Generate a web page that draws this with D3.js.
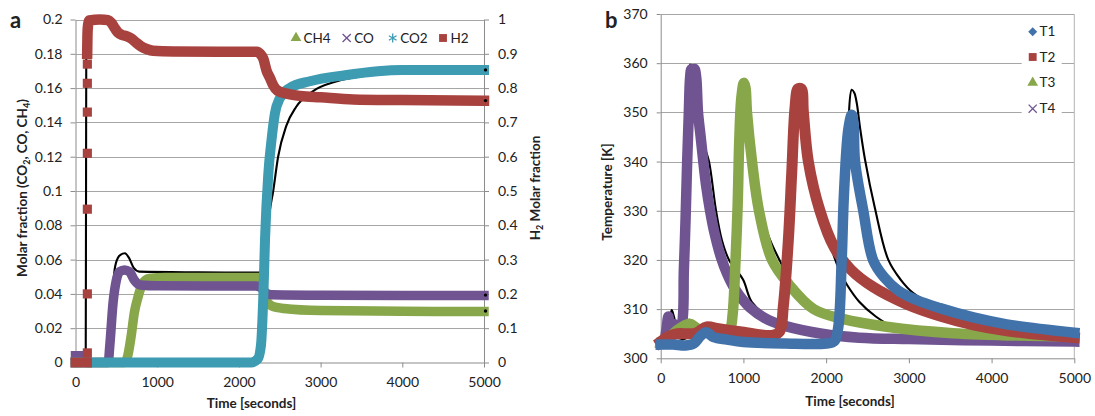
<!DOCTYPE html>
<html><head><meta charset="utf-8">
<script src="https://cdn.jsdelivr.net/npm/d3@7"></script>
<style>
body{margin:0;background:#fff}
svg{display:block}
text{font-family:Lato,"Open Sans",sans-serif;fill:#222}
</style>
</head><body>
<svg id="c" width="1095" height="416"></svg>
<script>
// ---------- shared ticks ----------
const timeTicks = [0, 1000, 2000, 3000, 4000, 5000];
const aLeftTicks = [0, 0.02, 0.04, 0.06, 0.08, 0.1, 0.12, 0.14, 0.16, 0.18, 0.2];
const aRightTicks = [0, 0.1, 0.2, 0.3, 0.4, 0.5, 0.6, 0.7, 0.8, 0.9, 1];
const bTempTicks = [300, 310, 320, 330, 340, 350, 360, 370];

// ---------- panel a : gas composition ----------
const aSeries = ["CH4", "CO", "CO2", "H2"];
const aColors = ["#87a74a", "#6f5491", "#3d9bb2", "#a8423f"];
// experimental (left axis)  [time s, molar fraction]
const ch4Exp = [[0,0],[600,0],[640,0.004],[680,0.015],[720,0.029],[770,0.039],[820,0.046],[900,0.049],[1100,0.0495],[2250,0.0495],[2290,0.045],[2330,0.037],[2400,0.033],[2550,0.0315],[3000,0.0303],[4000,0.0299],[5000,0.0297]];
const coExp = [[0,0.004],[100,0.004],[130,0.002],[150,0],[400,0],[420,0.01],[460,0.035],[500,0.048],[540,0.053],[600,0.054],[660,0.053],[720,0.048],[790,0.0452],[1000,0.0447],[2200,0.0446],[2260,0.044],[2320,0.041],[2400,0.0395],[3000,0.0392],[5000,0.0391]];
const co2Exp = [[0,0],[2150,0],[2230,0.002],[2270,0.01],[2300,0.04],[2320,0.072],[2360,0.11],[2400,0.13],[2440,0.145],[2500,0.154],[2620,0.16],[2870,0.164],[3300,0.1675],[4000,0.1705],[5000,0.1705]];
// H2 experimental (right axis)
const h2ExpLow = [[0,0],[50,0],[100,0],[140,0]];
const h2ExpRise = [[145,0.028],[145,0.2],[145,0.447],[145,0.61],[145,0.73],[145,0.814],[145,0.87]];
const h2ExpMain = [[143,0.9],[146,0.95],[152,0.98],[170,0.997],[300,1.0],[400,0.998],[440,0.99],[480,0.975],[520,0.962],[570,0.955],[630,0.951],[680,0.945],[730,0.935],[800,0.922],[870,0.914],[950,0.909],[1200,0.907],[2000,0.906],[2220,0.906],[2260,0.9],[2300,0.885],[2340,0.85],[2380,0.83],[2420,0.808],[2470,0.793],[2600,0.783],[2750,0.777],[3000,0.773],[3400,0.767],[4000,0.765],[5000,0.763]];
// model (black)
const ch4Mod = [[0,0],[600,0],[640,0.004],[680,0.015],[720,0.029],[770,0.039],[820,0.046],[900,0.049],[1100,0.0495],[2250,0.0495],[2290,0.045],[2330,0.037],[2400,0.033],[2550,0.0315],[3000,0.0303],[4000,0.03],[5000,0.03]];
const coMod = [[0,0],[440,0],[458,0.02],[470,0.05],[495,0.058],[550,0.0628],[605,0.0637],[655,0.061],[715,0.055],[780,0.053],[1500,0.0526],[2250,0.0524],[2285,0.05],[2330,0.042],[2400,0.0398],[3000,0.0394],[5000,0.0393]];
const co2Mod = [[0,0],[2200,0],[2270,0.005],[2300,0.03],[2330,0.06],[2370,0.085],[2420,0.1],[2480,0.12],[2580,0.138],[2700,0.149],[2900,0.158],[3200,0.164],[3600,0.1675],[4300,0.1698],[5000,0.1706]];
const h2Mod = [[0,0],[125,0],[129,0.5],[132,0.93],[140,0.975],[170,0.997],[300,1.0],[400,0.998],[440,0.99],[480,0.975],[520,0.962],[570,0.955],[630,0.951],[680,0.945],[730,0.935],[800,0.922],[870,0.914],[950,0.909],[1200,0.907],[2220,0.906],[2260,0.9],[2300,0.885],[2340,0.85],[2380,0.83],[2420,0.808],[2470,0.793],[2600,0.783],[2750,0.777],[3000,0.773],[3400,0.767],[4000,0.765],[5000,0.7635]];

// ---------- panel b : temperatures ----------
const bSeries = ["T1", "T2", "T3", "T4"];
const bColors = ["#4272aa", "#a8423f", "#87a74a", "#6f5491"];
const t1Exp = [[0,302.8],[150,302.8],[300,302.6],[400,303],[480,304.5],[550,305.3],[640,304.3],[800,303.8],[1000,303.3],[1500,303],[2000,303],[2100,303.5],[2147,306.4],[2188,320],[2216,333.6],[2268,346.5],[2309,349.5],[2330,348],[2349,340],[2449,330],[2567,320],[2700,316.5],[2870,313.8],[3100,311.8],[3376,310.2],[3780,308.3],[4183,306.9],[5000,305.2]];
const t2Exp = [[0,303.4],[100,304.5],[200,305],[420,305.1],[556,306.4],[700,306],[958,305.4],[1361,304.7],[1440,305.5],[1482,310.5],[1543,324],[1584,337.7],[1624,351],[1660,354.8],[1700,354.8],[1725,350],[1785,340],[1925,330],[2100,322.5],[2300,318],[2567,314.5],[2974,311],[3376,308.6],[3780,306.8],[4183,305.6],[5000,304.2]];
const t3Exp = [[0,303],[60,303],[100,304],[150,305],[250,306.3],[354,307],[450,306],[550,305.5],[650,305],[755,305.1],[838,306],[870,309],[898,317.3],[930,331],[950,344.4],[975,353],[1005,356],[1025,355],[1043,350],[1104,340],[1188,330],[1345,320],[1550,315],[1850,310],[2200,308],[2730,306.4],[3530,305.1],[5000,304.4]];
const t4Exp = [[0,303],[40,303.5],[70,306],[92,308.5],[120,306],[160,307],[200,305.5],[250,306.5],[280,318],[300,328],[320,340],[340,350],[355,357],[370,358.8],[390,358],[410,358.8],[430,357],[451,350],[480,345.5],[512,340.5],[550,335],[597,330],[650,325.5],[729,320.5],[800,317.3],[900,314],[1080,310.3],[1300,307.8],[1500,306.6],[1950,305],[2400,304.2],[3000,303.9],[4000,303.6],[5000,303.4]];
const t1Mod = [[0,303],[300,303.2],[500,304.5],[620,305.6],[755,306.3],[900,305],[1200,304],[1800,303.5],[2100,303.6],[2150,305],[2200,312],[2240,330],[2270,348],[2309,354.6],[2340,354],[2369,352],[2409,347],[2470,340.4],[2590,330.5],[2752,320],[2900,316],[3050,313.3],[3300,310.8],[3780,308.3],[4183,306.9],[5000,305.2]];
const t2Mod = [[0,303],[300,304],[556,306.8],[700,306],[1000,305],[1400,304.6],[1480,308],[1540,322],[1590,340],[1630,352],[1660,355],[1700,354],[1740,348],[1800,338.5],[1900,331],[2000,326],[2100,320.5],[2170,317.5],[2250,315],[2400,311.5],[2600,308.5],[2810,306.4],[3100,305],[3600,304.2],[5000,303.8]];
const t3Mod = [[0,303],[100,304],[200,306.5],[354,307.8],[500,306],[800,305.5],[870,310],[920,330],[955,350],[980,356.3],[1010,355.5],[1045,350],[1110,340],[1200,331],[1300,325],[1450,319.5],[1600,315],[1800,311.5],[2000,309.2],[2300,307.3],[2700,306],[3200,305.2],[4000,304.6],[5000,304.3]];
const t4Mod = [[0,303],[60,304],[100,307],[133,309.8],[160,308.5],[200,306],[250,306],[290,320],[320,345],[340,357],[355,359.7],[375,358.5],[420,354],[480,347],[530,343],[584,340],[669,330],[740,324],[826,320],[995,316],[1100,311.5],[1300,308.5],[1500,307],[2000,305.3],[3000,304.1],[5000,303.5]];

// ---------- drawing ----------
const svg = d3.select("#c");
const GRID = "#a6a6a6", AXIS = "#8c8c8c";
const FONT = "Lato, 'Open Sans', sans-serif";
const CURVE_A = d3.curveMonotoneX;
const CURVE_B = d3.curveCatmullRom.alpha(0.5);

const xA = d3.scaleLinear([0, 5000], [75.5, 484]);
const yA = d3.scaleLinear([0, 0.2], [362.5, 19.5]);
const yA2 = d3.scaleLinear([0, 1], [362.5, 19.5]);
const xB = d3.scaleLinear([0, 5000], [660.7, 1074.3]);
const yB = d3.scaleLinear([300, 370], [358.3, 14]);

function styleAxis(g, fs) {
  g.selectAll(".domain").attr("stroke", AXIS);
  g.selectAll(".tick line").attr("stroke", AXIS);
  g.selectAll(".tick text").attr("font-family", FONT).attr("font-size", fs).attr("fill", "#222");
}
function band(g, x, y, data, color, w, curve) {
  g.append("path").datum(data)
    .attr("d", d3.line().x(d => x(d[0])).y(d => y(d[1])).curve(curve))
    .attr("fill", "none").attr("stroke", color).attr("stroke-width", w)
    .attr("stroke-linejoin", "round").attr("stroke-linecap", "square");
}
function model(g, x, y, data, curve) {
  g.append("path").datum(data)
    .attr("d", d3.line().x(d => x(d[0])).y(d => y(d[1])).curve(curve))
    .attr("fill", "none").attr("stroke", "#000").attr("stroke-width", 2.1);
}
function marker(g, kind, cx, cy, color, scale) {
  const s = scale || 1;
  const sym = {tri: d3.symbolTriangle, sq: d3.symbolSquare, dia: d3.symbolSquare, x: d3.symbolTimes, ast: d3.symbolAsterisk}[kind];
  const size = {tri: 50, sq: 62, dia: 40, x: 45, ast: 55}[kind] * s;
  const p = g.append("path").attr("d", d3.symbol(sym, size)())
    .attr("transform", `translate(${cx},${cy})` + (kind === "dia" ? " rotate(45)" : ""));
  if (kind === "x" || kind === "ast") p.attr("fill", "none").attr("stroke", color).attr("stroke-width", 1.3);
  else p.attr("fill", color);
}
const fmt = d => String(d);

// ===== Panel a =====
const ga = svg.append("g");
ga.append("g").attr("transform", `translate(${xA.range()[0]},0)`)
  .call(d3.axisLeft(yA).tickValues(aLeftTicks.slice(1)).tickSize(-(xA.range()[1] - xA.range()[0])).tickFormat(""))
  .call(g => { g.select(".domain").remove(); g.selectAll("line").attr("stroke", GRID).attr("shape-rendering", "crispEdges"); });
const axL = ga.append("g").attr("transform", `translate(${xA.range()[0]},0)`)
  .call(d3.axisLeft(yA).tickValues(aLeftTicks).tickSize(5).tickPadding(8).tickFormat(fmt).tickSizeOuter(0));
styleAxis(axL, 14);
const axR = ga.append("g").attr("transform", `translate(${xA.range()[1]},0)`)
  .call(d3.axisRight(yA2).tickValues(aRightTicks).tickSize(5).tickPadding(9).tickFormat(fmt).tickSizeOuter(0));
styleAxis(axR, 14);
const axB = ga.append("g").attr("transform", `translate(0,${yA.range()[0]})`)
  .call(d3.axisBottom(xA).tickValues(timeTicks).tickSize(5).tickPadding(10).tickFormat(fmt).tickSizeOuter(0));
styleAxis(axB, 14);

model(ga, xA, yA, ch4Mod, CURVE_A);
model(ga, xA, yA, coMod, CURVE_A);
model(ga, xA, yA, co2Mod, CURVE_A);
model(ga, xA, yA2, h2Mod, CURVE_A);
band(ga, xA, yA, ch4Exp, aColors[0], 9.5, CURVE_A);
band(ga, xA, yA, coExp, aColors[1], 9.5, CURVE_A);
band(ga, xA, yA, co2Exp, aColors[2], 10, CURVE_A);
band(ga, xA, yA2, h2ExpLow, aColors[3], 10, CURVE_A);
h2ExpRise.forEach(d => marker(ga, "sq", xA(d[0]), yA2(d[1]), aColors[3], 1.35));
band(ga, xA, yA2, h2ExpMain, aColors[3], 10.5, CURVE_A);
[[ch4Mod, yA], [coMod, yA], [co2Mod, yA], [h2Mod, yA2]].forEach(([m, y]) => {
  const e = m[m.length - 1];
  ga.append("circle").attr("cx", xA(e[0]) + 1.5).attr("cy", y(e[1])).attr("r", 1.7).attr("fill", "#000");
});

// legend a
const legA = [{n: aSeries[0], k: "tri", x: 296}, {n: aSeries[1], k: "x", x: 346.7}, {n: aSeries[2], k: "ast", x: 392.7}, {n: aSeries[3], k: "sq", x: 443}];
legA.forEach((d, i) => {
  marker(ga, d.k, d.x, 38, aColors[i]);
  ga.append("text").attr("x", d.x + 7.5).attr("y", 38).attr("dy", "0.35em").attr("font-size", 13.5).text(d.n);
});

ga.append("text").attr("x", 10).attr("y", 28).attr("font-family", "'Liberation Serif', serif").attr("font-weight", "bold").attr("font-size", 22).text("a");
ga.append("text").attr("x", 251.5).attr("y", 408)
  .attr("text-anchor", "middle").attr("font-weight", "bold").attr("font-size", 13.5).text("Time [seconds]");
const tl = ga.append("text").attr("transform", "translate(27,188) rotate(-90)").attr("text-anchor", "middle")
  .attr("font-weight", "bold").attr("font-size", 13.5);
tl.append("tspan").text("Molar fraction (CO");
tl.append("tspan").attr("font-size", 9).attr("dy", 3).text("2");
tl.append("tspan").attr("dy", -3).text(", CO, CH");
tl.append("tspan").attr("font-size", 9).attr("dy", 3).text("4");
tl.append("tspan").attr("dy", -3).text(")");
const tr = ga.append("text").attr("transform", "translate(540,188) rotate(-90)").attr("text-anchor", "middle")
  .attr("font-weight", "bold").attr("font-size", 13.5);
tr.append("tspan").text("H");
tr.append("tspan").attr("font-size", 9).attr("dy", 3).text("2");
tr.append("tspan").attr("dy", -3).text(" Molar fraction");

// ===== Panel b =====
const gb = svg.append("g");
gb.append("g").attr("transform", `translate(${xB.range()[0]},0)`)
  .call(d3.axisLeft(yB).tickValues(bTempTicks.slice(1)).tickSize(-(xB.range()[1] - xB.range()[0])).tickFormat(""))
  .call(g => { g.select(".domain").remove(); g.selectAll("line").attr("stroke", GRID).attr("shape-rendering", "crispEdges"); });
gb.append("line").attr("x1", xB.range()[1]).attr("x2", xB.range()[1]).attr("y1", yB.range()[1]).attr("y2", yB.range()[0]).attr("stroke", "#b3b3b3");
const bL = gb.append("g").attr("transform", `translate(${xB.range()[0]},0)`)
  .call(d3.axisLeft(yB).tickValues(bTempTicks).tickSize(4).tickPadding(9).tickFormat(fmt).tickSizeOuter(0));
styleAxis(bL, 14);
const bB = gb.append("g").attr("transform", `translate(0,${yB.range()[0]})`)
  .call(d3.axisBottom(xB).tickValues(timeTicks).tickSize(5).tickPadding(10).tickFormat(fmt).tickSizeOuter(0));
styleAxis(bB, 14);

model(gb, xB, yB, t4Mod, CURVE_B);
model(gb, xB, yB, t3Mod, CURVE_B);
model(gb, xB, yB, t2Mod, CURVE_B);
model(gb, xB, yB, t1Mod, CURVE_B);
band(gb, xB, yB, t4Exp, bColors[3], 10.5, CURVE_B);
band(gb, xB, yB, t3Exp, bColors[2], 10.5, CURVE_B);
band(gb, xB, yB, t2Exp, bColors[1], 11, CURVE_B);
band(gb, xB, yB, t1Exp, bColors[0], 10.5, CURVE_B);

gb.append("rect").attr("x", 1021.7).attr("y", 18).attr("width", 40).attr("height", 102).attr("fill", "#fff");
const legBy = [31.7, 57, 82.7, 108.7];
const legBk = ["dia", "sq", "tri", "x"];
bSeries.forEach((n, i) => {
  marker(gb, legBk[i], 1032.7, legBy[i], bColors[i]);
  gb.append("text").attr("x", 1039.5).attr("y", legBy[i]).attr("dy", "0.35em").attr("font-size", 13.5).text(n);
});

gb.append("text").attr("x", 605).attr("y", 28).attr("font-family", "'Liberation Serif', serif").attr("font-weight", "bold").attr("font-size", 22).text("b");
gb.append("text").attr("x", 850).attr("y", 406).attr("text-anchor", "middle").attr("font-weight", "bold").attr("font-size", 13.5).text("Time [seconds]");
gb.append("text").attr("transform", "translate(612,192) rotate(-90)").attr("text-anchor", "middle")
  .attr("font-weight", "bold").attr("font-size", 13.5).text("Temperature [K]");
</script>
</body></html>
